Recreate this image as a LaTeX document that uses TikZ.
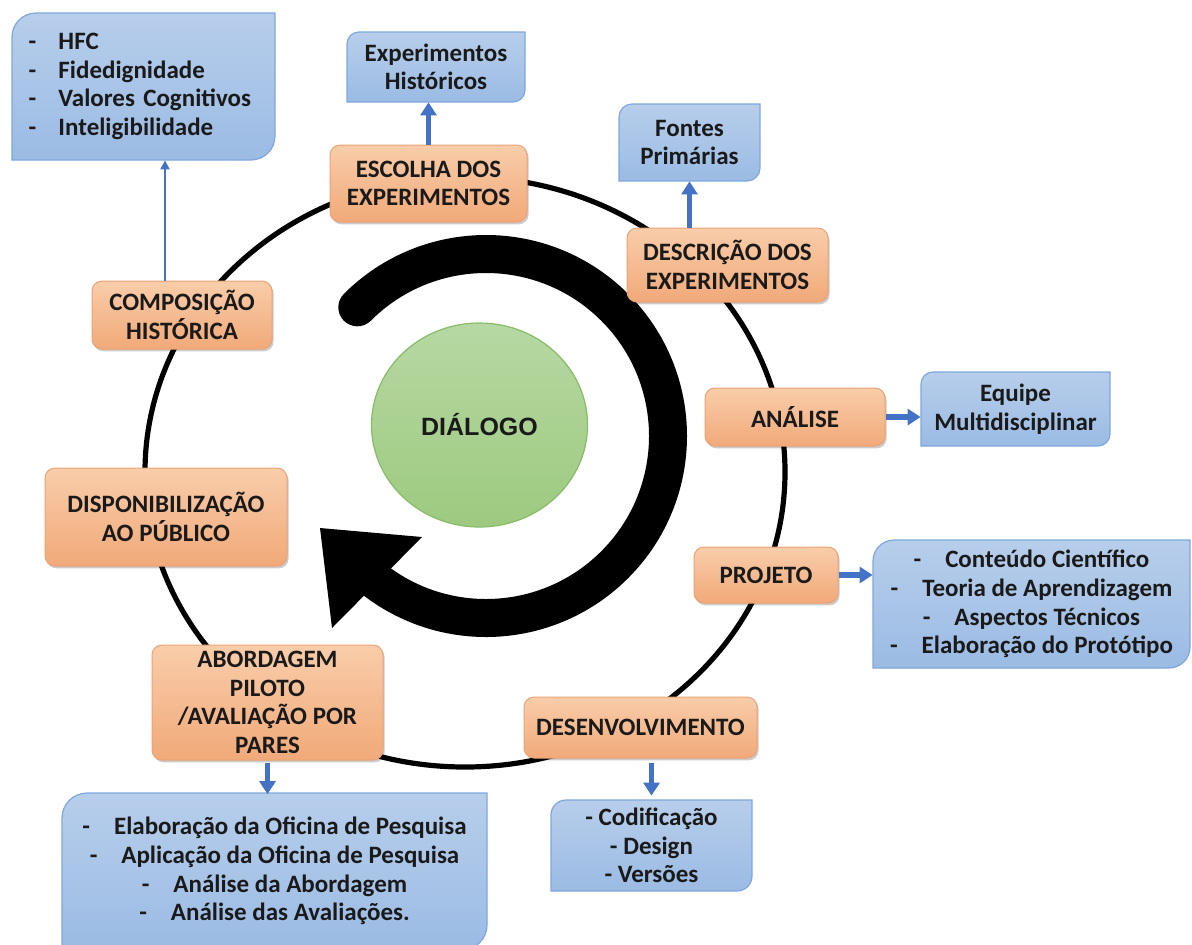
\documentclass[tikz,border=0pt]{standalone}
\usepackage{fontspec}
\setmainfont{Carlito}
\newfontfamily\arialfont{Liberation Sans}
\usetikzlibrary{arrows.meta,shadows,calc,shapes.geometric}
\definecolor{orTop}{HTML}{F9CDAA}
\definecolor{orBot}{HTML}{F1A979}
\definecolor{orEdge}{HTML}{EBA274}
\definecolor{blTop}{HTML}{B7CEEB}
\definecolor{blBot}{HTML}{9BBBE4}
\definecolor{blEdge}{HTML}{7FA7DC}
\definecolor{arBlue}{HTML}{4472C4}
\definecolor{grTop}{HTML}{B6D8A3}
\definecolor{grBot}{HTML}{9DCA7F}
\definecolor{grEdge}{HTML}{88BB68}
\definecolor{txt}{HTML}{1A1A1A}
\newcommand\bshape[5]{%
  \path[bluefill] (#1,#2+#5) arc[start angle=180,end angle=270,radius=#5]
    -- (#3,#2) -- (#3,#4-#5) arc[start angle=0,end angle=90,radius=#5]
    -- (#1,#4) -- cycle;}
\begin{document}
\begin{tikzpicture}[x=0.5pt,y=-0.5pt,
  every node/.style={text=txt},
  txtfont/.style={font=\fontsize{12.5}{14.3}\selectfont\bfseries},
  orbox/.style={txtfont, align=center, inner sep=0pt, rounded corners=5pt,
    top color=orTop, bottom color=orBot, draw=orEdge, line width=0.5pt,
    drop shadow={shadow xshift=0.8pt, shadow yshift=-1.2pt, opacity=0.2, fill=black}},
  bluefill/.style={top color=blTop, bottom color=blBot, draw=blEdge, line width=0.6pt},
  btext/.style={txtfont, align=center, inner sep=0pt},
  barrow/.style={draw=arBlue, line width=2.8pt, -{Triangle[width=8pt,length=6.5pt]}},
  tarrow/.style={draw=arBlue, line width=1pt, -{Triangle[width=4.5pt,length=4.5pt]}},
  ring/.style={draw=black, line width=2.6pt},
]
\useasboundingbox (0,0) rectangle (1192,944);

% outer thin ring
\draw[ring] (465,472) ellipse [x radius=320, y radius=295];

% thick cycle arrow
\draw[line width=19pt, line cap=round] (486,436) ++(225:182)
  arc[start angle=225, end angle=487, radius=182];
\fill (320,528) -- (422,537) -- (332,628) -- cycle;

% central circle
\node[ellipse, minimum width=108pt, minimum height=102pt, inner sep=0pt,
  top color=grTop, bottom color=grBot, draw=grEdge, line width=0.6pt,
  font=\arialfont\bfseries\fontsize{12.5}{14}\selectfont]
  (dialogo) at (479.5,425) {DIÁLOGO};

% blue boxes
\bshape{12}{13}{275}{160}{24}
\node[btext, align=left, text width=115pt, minimum width=131.5pt, minimum height=73.5pt]
  (hfc) at (143.5,86.5)
  {\makebox[15pt][l]{-}HFC\\ \makebox[15pt][l]{-}Fidedignidade\\
   \makebox[15pt][l]{-}Valores Cognitivos\\ \makebox[15pt][l]{-}Inteligibilidade};

\bshape{347}{32}{525}{102}{12}
\node[btext, minimum width=89pt, minimum height=35pt] (exph) at (436,67)
  {Experimentos\\Históricos};

\bshape{619}{104}{760}{181}{13}
\node[btext, minimum width=70.5pt, minimum height=38.5pt] (fontes) at (689.5,142.5)
  {Fontes\\Primárias};

\bshape{921}{372}{1110}{446}{12}
\node[btext, minimum width=94.5pt, minimum height=37pt] (equipe) at (1015.5,409)
  {Equipe\\Multidisciplinar};

\bshape{873}{540}{1190}{668}{21}
\node[btext, minimum width=158.5pt, minimum height=64pt] (conteudo) at (1031.5,604)
  {-\hspace{12pt}Conteúdo Científico\\ -\hspace{12pt}Teoria de Aprendizagem\\
   -\hspace{12pt}Aspectos Técnicos\\ -\hspace{12pt}Elaboração do Protótipo};

\bshape{551}{800}{752}{891}{15}
\node[btext, minimum width=100.5pt, minimum height=45.5pt] (codif) at (651.5,845.5)
  {- Codificação\\- Design\\- Versões};

\bshape{62}{793}{487}{950}{25}
\node[btext, minimum width=212.5pt, minimum height=76.5pt] (oficina) at (274.5,871)
  {-\hspace{12pt}Elaboração da Oficina de Pesquisa\\
   -\hspace{12pt}Aplicação da Oficina de Pesquisa\\
   -\hspace{12pt}Análise da Abordagem\\
   -\hspace{12pt}Análise das Avaliações.};

% orange boxes
\node[orbox, minimum width=98.5pt, minimum height=38.5pt] (escolha) at (428.5,183.5)
  {ESCOLHA DOS\\EXPERIMENTOS};
\node[orbox, minimum width=100.5pt, minimum height=37pt] (descr) at (727.5,265)
  {DESCRIÇÃO DOS\\EXPERIMENTOS};
\node[orbox, minimum width=90pt, minimum height=29pt] (analise) at (795,417)
  {ANÁLISE};
\node[orbox, minimum width=72pt, minimum height=28pt] (projeto) at (766,575)
  {PROJETO};
\node[orbox, minimum width=116.5pt, minimum height=30.5pt] (desenv) at (640.5,727.5)
  {DESENVOLVIMENTO};
\node[orbox, minimum width=115.5pt, minimum height=57.5pt] (abord) at (267.5,702.5)
  {ABORDAGEM\\PILOTO\\/AVALIAÇÃO POR\\PARES};
\node[orbox, minimum width=121pt, minimum height=49pt] (dispon) at (166,517)
  {DISPONIBILIZAÇÃO\\AO PÚBLICO};
\node[orbox, minimum width=90pt, minimum height=34pt] (compos) at (182,315)
  {COMPOSIÇÃO\\HISTÓRICA};

% blue arrows
\draw[tarrow] ([xshift=-8.5pt]compos.north) -- ([xshift=-8.5pt]compos.north |- hfc.south);
\draw[barrow] (escolha.north) -- (escolha.north |- exph.south);
\draw[barrow] (fontes.south |- descr.north) -- (fontes.south);
\draw[barrow] (analise.east) -- (analise.east -| equipe.west);
\draw[barrow] (projeto.east) -- (projeto.east -| conteudo.west);
\draw[barrow] ([yshift=-2pt]codif.north |- desenv.south) -- ([yshift=2pt]codif.north);
\draw[barrow] ([yshift=-1pt]abord.south) -- (abord.south |- oficina.north);
\end{tikzpicture}
\end{document}
